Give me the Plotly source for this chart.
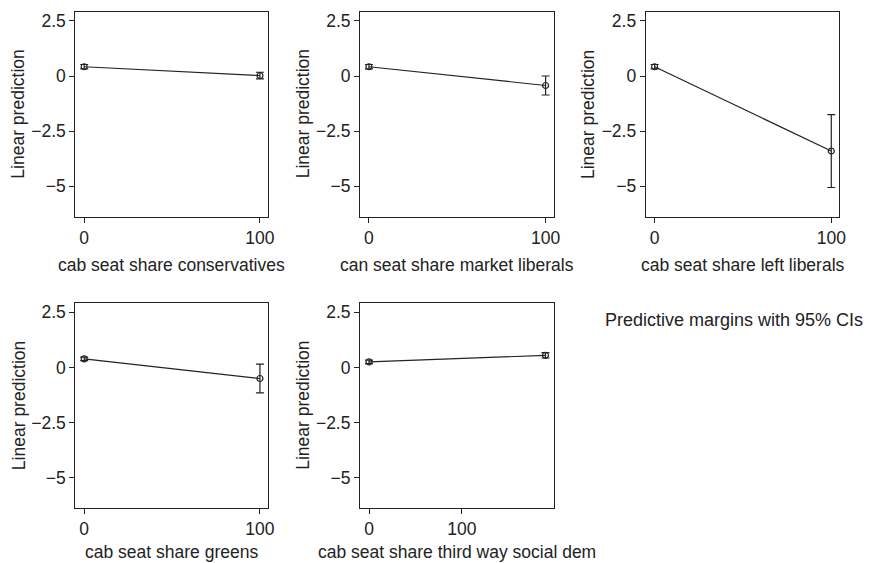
import plotly.graph_objects as go

# ---- data ----
x_titles = ["cab seat share conservatives", "can seat share market liberals",
            "cab seat share left liberals", "cab seat share greens",
            "cab seat share third way social dem"]
x_vals = [[0, 100], [0, 100], [0, 100], [0, 100], [0, 190]]
y_vals = [[0.42, 0.02], [0.42, -0.43], [0.42, -3.40], [0.39, -0.50], [0.25, 0.55]]
ci_half = [[0.10, 0.15], [0.10, 0.43], [0.10, 1.65], [0.08, 0.65], [0.08, 0.12]]
x_ranges = [[-5, 104.5], [-5, 104.5], [-5, 104.5], [-5, 104.5], [-9.6, 198.7]]
y_tickvals = [2.5, 0, -2.5, -5]
y_ticktext = ["2.5", "0", "\u22122.5", "\u22125"]
x_tickvals = [0, 100]
x_ticktext = ["0", "100"]
y_title = "Linear prediction"
note = "Predictive margins with 95% CIs"

W, H = 875, 563
# panel boxes in pixels (left, right, top, bottom)
boxes = [(76, 270, 11, 216), (363, 558, 11, 216), (651, 846, 11, 216),
         (76, 270, 303, 508), (363, 558, 303, 508)]

FONT = "Liberation Sans, Arial, Helvetica, sans-serif"
FS = 17.5
TXT = "#222222"
LINE = "#222222"

fig = go.Figure()
annotations = []
for i in range(5):
    l, r, t, b = boxes[i]
    xa = "x" if i == 0 else f"x{i+1}"
    ya = "y" if i == 0 else f"y{i+1}"
    fig.add_trace(go.Scatter(
        x=x_vals[i], y=y_vals[i], xaxis=xa, yaxis=ya, mode="lines+markers",
        line=dict(color=LINE, width=1.2),
        marker=dict(symbol="circle-open", size=6, color=LINE, line=dict(width=1.2)),
        error_y=dict(type="data", array=ci_half[i], color=LINE, thickness=1.2, width=4),
        showlegend=False, hoverinfo="skip"))
    axx = dict(domain=[l / W, r / W], range=x_ranges[i], anchor=ya,
               tickvals=x_tickvals, ticktext=x_ticktext, ticks="outside", ticklen=5,
               tickcolor=LINE, showline=True, mirror=True, linecolor=LINE, linewidth=1.2,
               showgrid=False, zeroline=False,
               tickfont=dict(family=FONT, size=FS, color=TXT))
    axy = dict(domain=[1 - b / H, 1 - t / H], range=[-6.37, 2.9], anchor=xa,
               tickvals=y_tickvals, ticktext=y_ticktext, ticks="outside", ticklen=5,
               tickcolor=LINE, showline=True, mirror=True, linecolor=LINE, linewidth=1.2,
               showgrid=False, zeroline=False,
               tickfont=dict(family=FONT, size=FS, color=TXT))
    fig.layout[("xaxis" if i == 0 else f"xaxis{i+1}")] = axx
    fig.layout[("yaxis" if i == 0 else f"yaxis{i+1}")] = axy
    # x title
    if t < 100:
        annotations.append(dict(text=x_titles[i], x=(l + r) / 2 / W,
                                y=1 - (b + 48) / H, xref="paper", yref="paper",
                                xanchor="center", yanchor="middle", showarrow=False,
                                font=dict(family=FONT, size=FS, color=TXT)))
    else:
        annotations.append(dict(text=x_titles[i], x=(l + r) / 2 / W,
                                y=0, xref="paper", yref="paper",
                                xanchor="center", yanchor="bottom", showarrow=False,
                                borderpad=0,
                                font=dict(family=FONT, size=FS, color=TXT)))
    # y title
    annotations.append(dict(text=y_title, x=(l - 57.5) / W, y=1 - (t + b) / 2 / H,
                            xref="paper", yref="paper", xanchor="center", yanchor="middle",
                            textangle=-90, showarrow=False,
                            font=dict(family=FONT, size=FS, color=TXT)))

annotations.append(dict(text=note, x=740 / W, y=1 - 320 / H, xref="paper", yref="paper",
                        xanchor="center", yanchor="middle", showarrow=False,
                        font=dict(family=FONT, size=18, color=TXT)))

fig.update_layout(width=W, height=H, margin=dict(l=0, r=0, t=0, b=0),
                  paper_bgcolor="white", plot_bgcolor="white",
                  annotations=annotations)
fig.write_html("out.html", config={"displayModeBar": False},
               post_script="document.body.style.margin='0';")
